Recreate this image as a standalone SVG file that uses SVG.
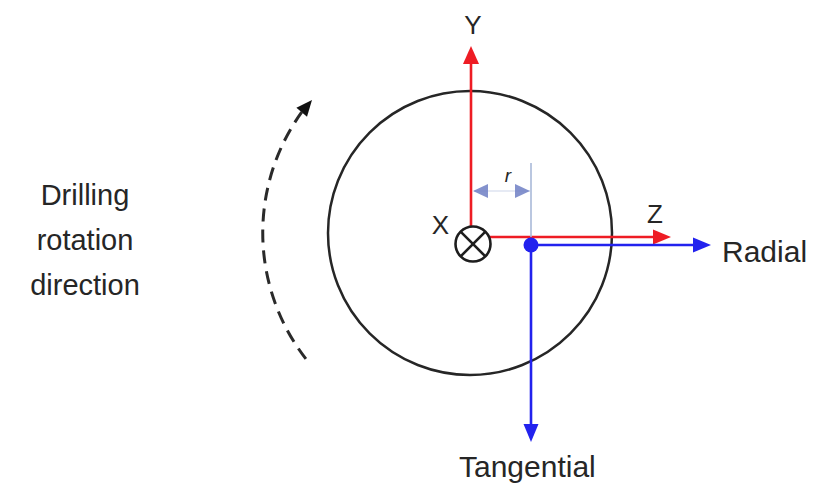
<svg xmlns="http://www.w3.org/2000/svg" width="815" height="487" viewBox="0 0 815 487">
<style>
text{font-family:"Liberation Sans",Arial,sans-serif;fill:#262626}
.lbl{font-size:26px}
.big{font-size:30px}
.side{font-size:29px;text-anchor:middle}
.red{stroke:#ee1c24;stroke-width:2.6;fill:none}
.blue{stroke:#2222ee;stroke-width:2.6;fill:none}
.redh{fill:#ee1c24}
.blueh{fill:#2222ee}
.dim{stroke:#a9b9d9;stroke-width:1.6;fill:none}
.dimh{fill:#6f7fc4}
</style>
<rect width="815" height="487" fill="#ffffff"/>
<g id="wheel">
<circle cx="470" cy="233" r="142" fill="none" stroke="#262626" stroke-width="2.5"/>
</g>
<g id="rotation">
<path d="M305.9,358.9 A206,206 0 0 1 301.7,112.2" fill="none" stroke="#2a2a2a" stroke-width="3" stroke-dasharray="13,8"/>
<polygon points="312,100 307,116.7 296.4,107.7" fill="#111"/>
<text class="side" x="85" y="205">Drilling</text>
<text class="side" x="85" y="250">rotation</text>
<text class="side" x="85" y="295">direction</text>
</g>
<g id="connectors">
<g id="axis-y">
<line class="red" x1="471" y1="227" x2="471" y2="62"/>
<polygon class="redh" points="471,46 463,64 479,64"/>
</g>
<g id="axis-z">
<line class="red" x1="489" y1="237" x2="656" y2="237"/>
<polygon class="redh" points="671,237 653,229.5 653,244.5"/>
</g>
<g id="radial">
<line class="blue" x1="531" y1="245" x2="696" y2="245"/>
<polygon class="blueh" points="711,245 693,237.5 693,252.5"/>
</g>
<g id="tangential">
<line class="blue" x1="531" y1="245" x2="531" y2="427"/>
<polygon class="blueh" points="531,442 523.5,424 538.5,424"/>
</g>
<g id="dimension-r">
<line class="dim" x1="531" y1="163" x2="531" y2="237"/>
<line class="dim" x1="474" y1="191" x2="530" y2="191" stroke-opacity="0.4"/>
<polygon class="dimh" points="473,191 488,184 488,198" opacity="0.85"/>
<polygon class="dimh" points="530,191 515,184 515,198" opacity="0.85"/>
</g>
</g>
<g id="x-axis">
<circle cx="473" cy="244" r="17.5" fill="#ffffff" stroke="#1e1e1e" stroke-width="2.6"/>
<line x1="460.6" y1="231.6" x2="485.4" y2="256.4" stroke="#1e1e1e" stroke-width="2.6"/>
<line x1="485.4" y1="231.6" x2="460.6" y2="256.4" stroke="#1e1e1e" stroke-width="2.6"/>
</g>
<g id="point">
<circle cx="531" cy="245" r="7.5" fill="#2222ee"/>
</g>
<g id="labels">
<text class="lbl" x="473" y="34" text-anchor="middle">Y</text>
<text class="lbl" x="449" y="234" text-anchor="end">X</text>
<text class="lbl" x="655" y="223" text-anchor="middle">Z</text>
<text x="508" y="182" font-size="19" font-style="italic" text-anchor="middle">r</text>
<text class="big" x="722" y="262">Radial</text>
<text class="big" x="459" y="477">Tangential</text>
</g>
</svg>
